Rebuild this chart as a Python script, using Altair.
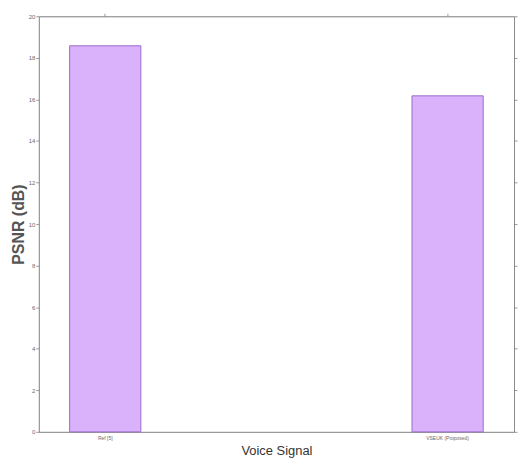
import altair as alt
import pandas as pd

categories = ["Ref [5]", "VSEUK (Proposed)"]
psnr_values = [18.58, 16.17]
y_ticks = [0, 2, 4, 6, 8, 10, 12, 14, 16, 18, 20]

df = pd.DataFrame({"signal": categories, "psnr": psnr_values})

GRAY = "#6a6a6a"
AXC = "#8a8a8a"

xscale = alt.Scale(domain=categories, paddingInner=0.792, paddingOuter=0.09)
yscale = alt.Scale(domain=[0, 20], nice=False)

bars = alt.Chart(df).mark_bar(
    color="#d9b2fb", stroke="#9a6ccc", strokeWidth=1
).encode(
    x=alt.X("signal:N", scale=xscale, sort=categories,
            axis=alt.Axis(title="Voice Signal", labelAngle=0, labelFontSize=5,
                          labelColor=GRAY, ticks=False, labelPadding=4,
                          titleFontSize=13, titleColor="#333333",
                          titleFont="Liberation Sans",
                          titleFontWeight="normal", titlePadding=4,
                          domainColor=AXC, labelFont="Liberation Sans")),
    y=alt.Y("psnr:Q", scale=yscale,
            axis=alt.Axis(title="PSNR (dB)", values=y_ticks, labelFontSize=6,
                          labelColor=GRAY, tickSize=3, tickColor="#999999",
                          labelPadding=1, grid=False,
                          titleFontSize=16, titleColor="#555555",
                          titleFont="Liberation Sans", titleFontWeight="bold",
                          titlePadding=2, domainColor=AXC)),
)

frame = alt.Chart(df).mark_bar(opacity=0).encode(
    x=alt.X("signal:N", scale=xscale, sort=categories,
            axis=alt.Axis(orient="top", title=None, labels=False, tickSize=3,
                          tickColor="#999999", domainColor=AXC)),
    y=alt.Y("psnr:Q", scale=yscale,
            axis=alt.Axis(orient="right", title=None, labels=False, values=y_ticks,
                          tickSize=3, tickColor="#999999", domainColor=AXC,
                          grid=False)),
)

chart = alt.layer(bars, frame).resolve_axis(x="independent", y="independent").properties(
    width=478, height=418, padding={"left": 2, "top": 3, "right": 0, "bottom": 0}
).configure_view(stroke=None).configure(font="Liberation Sans")

chart.save("out.html", embed_options={"renderer": "svg", "actions": False})
